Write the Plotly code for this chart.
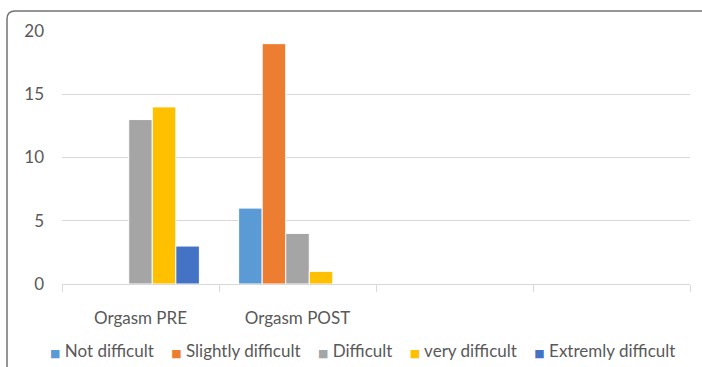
import plotly.graph_objects as go

# Categories on the x axis (two unused slots keep the Excel-style layout)
categories = ["Orgasm PRE", "Orgasm POST", " ", "  "]

# Series: counts per difficulty level for PRE and POST
series_names = ["Not difficult", "Slightly difficult", "Difficult", "very difficult", "Extremly difficult"]
not_difficult = [0, 6]
slightly_difficult = [0, 19]
difficult = [13, 4]
very_difficult = [14, 1]
extremly_difficult = [3, 0]
series_values = [not_difficult, slightly_difficult, difficult, very_difficult, extremly_difficult]
colors = ["#5B9BD5", "#ED7D31", "#A5A5A5", "#FFC000", "#4472C4"]

y_ticks = [0, 5, 10, 15, 20]

FONT = "Lato, 'Open Sans', sans-serif"
TXT = "#595959"
FS = 17

W, H = 702, 367
L, R, T, B = 62, 12, 31, 83

fig = go.Figure()
for name, vals, col in zip(series_names, series_values, colors):
    fig.add_trace(go.Bar(
        x=categories[:2], y=vals, name=name,
        marker=dict(color=col, line=dict(color="white", width=1)),
    ))

# Frame around the chart area: rounded top-left corner, runs off the right and bottom
pw, ph = W - L - R, H - T - B
def px_x(p):
    return (p - L) / pw
def px_y(p):
    return (H - B - p) / ph
x0, x1 = px_x(7), px_x(720)
y0, y1 = px_y(11), px_y(380)
rx, ry = 8 / pw, 8 / ph
frame = (f"M {x0},{y1} L {x0},{y0 - ry} Q {x0},{y0} {x0 + rx},{y0} L {x1},{y0}")

# Compact Excel-style legend: small coloured square close to each label
legend_text = "&nbsp;&nbsp;&nbsp;&nbsp;".join(
    f"<span style='color:{c};font-size:11px;font-family:DejaVu Sans'>■</span> {n}"
    for n, c in zip(series_names, colors)
)

fig.update_layout(
    width=W, height=H,
    margin=dict(l=L, r=R, t=T, b=B),
    paper_bgcolor="white", plot_bgcolor="white",
    barmode="group", bargap=0.25, bargroupgap=0,
    font=dict(family=FONT, size=FS, color=TXT),
    showlegend=False,
    shapes=[dict(type="path", path=frame, xref="paper", yref="paper",
                 line=dict(color="#737373", width=1.5), layer="above")],
    annotations=[dict(text=legend_text, xref="paper", yref="paper",
                      x=px_x(362), y=px_y(350), xanchor="center", yanchor="middle",
                      showarrow=False, font=dict(family=FONT, size=FS, color=TXT))],
)
fig.update_xaxes(
    type="category", categoryorder="array", categoryarray=categories,
    range=[-0.5, 3.5], showline=True, linecolor="#d9d9d9", linewidth=1,
    ticks="outside", tickson="boundaries", ticklen=7, tickcolor="#d9d9d9",
    showgrid=False, tickfont=dict(size=FS, color=TXT), ticklabelstandoff=19,
)
fig.update_yaxes(
    range=[0, 20], tickvals=y_ticks, showgrid=True, gridcolor="#d9d9d9", gridwidth=1,
    zeroline=False, showline=False, tickfont=dict(size=FS, color=TXT), ticklabelstandoff=17,
)

fig.write_html("out.html")
